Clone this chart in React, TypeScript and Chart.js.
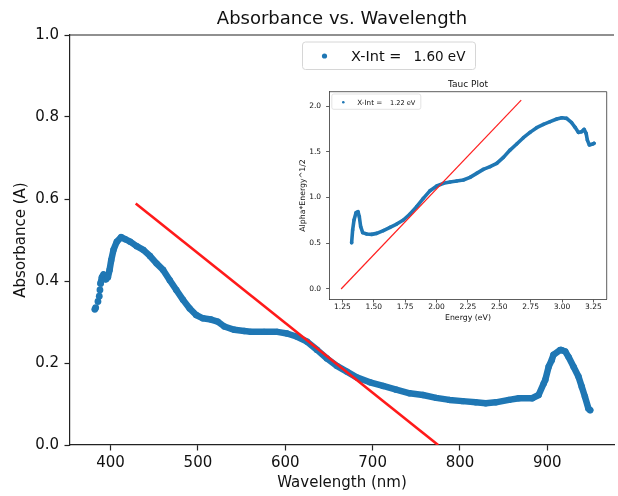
import React, { useEffect, useRef } from 'react';
import { Chart, registerables } from 'chart.js';

Chart.register(...registerables);

const FONT = "'DejaVu Sans', sans-serif";
const TEXT = '#111111';
const SPINE = '#222222';
const BLUE = '#1f77b4';

// ---- main chart data ----
const wavelengthNm = [
  382, 383, 385.6, 387.1, 387.9, 388.6, 390.1, 392, 394.7, 397, 398.9, 400.8, 403.4, 407.2,
  412.2, 416.7, 422.4, 429.9, 437.5, 445.1, 452.6, 460.2, 467.8, 475.3, 483, 490.6, 498,
  505.7, 515, 522.7, 530.3, 541.7, 553, 560.6, 575.8, 590.9, 602, 613.6, 625, 636.4, 647.7,
  659, 670.5, 681.8, 697, 712, 727, 742.4, 757.6, 772.7, 787.9, 803, 818, 829.5, 841, 856,
  867.4, 882.6, 890, 895.8, 897.7, 901.5, 905, 907, 914.8, 916, 920.5, 924.2, 930, 935.6,
  939.4, 943, 947, 949,
];
const absorbanceA = [
  0.331, 0.335, 0.35, 0.363, 0.378, 0.394, 0.409, 0.416, 0.404, 0.409, 0.427, 0.451, 0.476,
  0.496, 0.507, 0.502, 0.496, 0.485, 0.476, 0.461, 0.443, 0.427, 0.402, 0.378, 0.354, 0.333,
  0.317, 0.309, 0.306, 0.301, 0.289, 0.281, 0.278, 0.276, 0.276, 0.276, 0.272, 0.264, 0.252,
  0.232, 0.211, 0.193, 0.179, 0.165, 0.153, 0.144, 0.135, 0.126, 0.122, 0.115, 0.11, 0.107,
  0.104, 0.102, 0.104, 0.11, 0.114, 0.114, 0.122, 0.15, 0.159, 0.191, 0.207, 0.22, 0.232,
  0.232, 0.228, 0.215, 0.191, 0.167, 0.142, 0.118, 0.089, 0.085,
];
const fitWavelength = [428.8, 775];
const fitAbsorbance = [0.589, 0];
const mainXTicks = [400, 500, 600, 700, 800, 900];
const mainYTicks = [0, 0.2, 0.4, 0.6, 0.8, 1.0];
const mainXRange = [353.6, 976.3];
const mainYRange = [0, 1];
const mainTitle = 'Absorbance vs. Wavelength';
const mainXLabel = 'Wavelength (nm)';
const mainYLabel = 'Absorbance (A)';
const mainLegendLabel = 'X-Int =';
const mainLegendValue = '1.60 eV';
const sparseLeadingPoints = 5;

// ---- inset (Tauc plot) data ----
const energyEv = [
  1.324, 1.332, 1.343, 1.359, 1.375, 1.385, 1.396, 1.412, 1.444, 1.484, 1.524, 1.577, 1.63,
  1.683, 1.736, 1.789, 1.842, 1.895, 1.949, 2.002, 2.055, 2.108, 2.161, 2.214, 2.267, 2.32,
  2.373, 2.427, 2.48, 2.533, 2.586, 2.639, 2.692, 2.745, 2.798, 2.852, 2.905, 2.958, 2.998,
  3.037, 3.077, 3.104, 3.131, 3.157, 3.176, 3.192, 3.202, 3.218, 3.245, 3.255,
];
const taucValue = [
  0.506, 0.645, 0.754, 0.834, 0.845, 0.791, 0.681, 0.616, 0.601, 0.597, 0.608, 0.638, 0.674,
  0.71, 0.754, 0.82, 0.9, 0.991, 1.075, 1.126, 1.155, 1.169, 1.18, 1.191, 1.22, 1.264,
  1.308, 1.337, 1.373, 1.439, 1.519, 1.585, 1.654, 1.712, 1.763, 1.8, 1.829, 1.858, 1.872,
  1.865, 1.818, 1.767, 1.712, 1.72, 1.745, 1.701, 1.628, 1.574, 1.585, 1.592,
];
const taucFitEnergy = [1.24, 2.675];
const taucFitValue = [0, 2.065];
const taucXTicks = [1.25, 1.5, 1.75, 2.0, 2.25, 2.5, 2.75, 3.0, 3.25];
const taucYTicks = [0, 0.5, 1.0, 1.5, 2.0];
const taucXRange = [1.146, 3.356];
const taucYRange = [-0.113, 2.157];
const taucTitle = 'Tauc Plot';
const taucXLabel = 'Energy (eV)';
const taucYLabel = 'Alpha*Energy^1/2';
const taucLegendLabel = 'X-Int =';
const taucLegendValue = '1.22 eV';

function pts(xs: number[], ys: number[]) {
  return xs.map((x, i) => ({ x, y: ys[i] }));
}

function roundRect(ctx: CanvasRenderingContext2D, x: number, y: number, w: number, h: number, r: number) {
  ctx.beginPath();
  ctx.moveTo(x + r, y);
  ctx.lineTo(x + w - r, y);
  ctx.quadraticCurveTo(x + w, y, x + w, y + r);
  ctx.lineTo(x + w, y + h - r);
  ctx.quadraticCurveTo(x + w, y + h, x + w - r, y + h);
  ctx.lineTo(x + r, y + h);
  ctx.quadraticCurveTo(x, y + h, x, y + h - r);
  ctx.lineTo(x, y + r);
  ctx.quadraticCurveTo(x, y, x + r, y);
  ctx.closePath();
}

const mainDecor = {
  id: 'mainDecor',
  afterDraw(chart: any) {
    const { ctx, chartArea } = chart;
    ctx.save();
    ctx.strokeStyle = SPINE;
    ctx.lineWidth = 1.2;
    ctx.beginPath();
    ctx.moveTo(chartArea.left, chartArea.top);
    ctx.lineTo(chartArea.right, chartArea.top);
    ctx.stroke();

    ctx.fillStyle = TEXT;
    ctx.font = `18px ${FONT}`;
    ctx.textAlign = 'center';
    ctx.textBaseline = 'alphabetic';
    ctx.fillText(mainTitle, (chartArea.left + chartArea.right) / 2, 23.5);

    // legend
    roundRect(ctx, 302.5, 42, 173, 27.5, 3);
    ctx.fillStyle = 'rgba(255,255,255,0.85)';
    ctx.fill();
    ctx.strokeStyle = '#d6d6d6';
    ctx.lineWidth = 1;
    ctx.stroke();
    ctx.fillStyle = BLUE;
    ctx.beginPath();
    ctx.arc(324.5, 56, 2.6, 0, Math.PI * 2);
    ctx.fill();
    ctx.fillStyle = TEXT;
    ctx.textAlign = 'left';
    ctx.font = `14.5px ${FONT}`;
    ctx.fillText(mainLegendLabel, 351, 61);
    ctx.font = `13.5px ${FONT}`;
    ctx.fillText(mainLegendValue, 413.5, 61);
    ctx.restore();
  },
};

const insetDecor = {
  id: 'insetDecor',
  afterDraw(chart: any) {
    const { ctx, chartArea } = chart;
    ctx.save();
    ctx.strokeStyle = '#333';
    ctx.lineWidth = 0.8;
    ctx.beginPath();
    ctx.moveTo(chartArea.left, chartArea.top);
    ctx.lineTo(chartArea.right, chartArea.top);
    ctx.lineTo(chartArea.right, chartArea.bottom);
    ctx.stroke();

    ctx.fillStyle = TEXT;
    ctx.font = `9px ${FONT}`;
    ctx.textAlign = 'center';
    ctx.textBaseline = 'alphabetic';
    ctx.fillText(taucTitle, (chartArea.left + chartArea.right) / 2, 14.7);

    roundRect(ctx, chartArea.left + 2.5, chartArea.top + 2.3, 89, 15.3, 2);
    ctx.fillStyle = 'rgba(255,255,255,0.85)';
    ctx.fill();
    ctx.strokeStyle = '#dcdcdc';
    ctx.lineWidth = 0.8;
    ctx.stroke();
    ctx.fillStyle = BLUE;
    ctx.beginPath();
    ctx.arc(chartArea.left + 14, chartArea.top + 10.6, 1.3, 0, Math.PI * 2);
    ctx.fill();
    ctx.fillStyle = TEXT;
    ctx.textAlign = 'left';
    ctx.font = `7.2px ${FONT}`;
    ctx.fillText(taucLegendLabel, chartArea.left + 28, chartArea.top + 13.3);
    ctx.font = `6.6px ${FONT}`;
    ctx.fillText(taucLegendValue, chartArea.left + 60.7, chartArea.top + 13.3);
    ctx.restore();
  },
};

export default function App() {
  const mainRef = useRef<HTMLCanvasElement>(null);
  const insetRef = useRef<HTMLCanvasElement>(null);

  useEffect(() => {
    const mainChart = new Chart(mainRef.current as HTMLCanvasElement, {
      type: 'scatter',
      data: {
        datasets: [
          {
            data: pts(fitWavelength, fitAbsorbance),
            showLine: true,
            borderColor: '#ff1a1a',
            borderWidth: 2.6,
            pointRadius: 0,
            order: 0,
          },
          {
            data: pts(wavelengthNm, absorbanceA),
            showLine: true,
            borderColor: BLUE,
            borderWidth: 6.5,
            borderCapStyle: 'round',
            borderJoinStyle: 'round',
            segment: {
              borderColor: (c: any) => (c.p0DataIndex < sparseLeadingPoints ? 'rgba(0,0,0,0)' : undefined),
            },
            pointRadius: (c: any) => (c.dataIndex < sparseLeadingPoints + 1 ? 3.4 : 3.2),
            pointBackgroundColor: BLUE,
            pointBorderWidth: 0,
            order: 1,
          },
        ],
      } as any,
      options: {
        animation: false,
        responsive: false,
        events: [],
        layout: { padding: { top: 35, left: 0, right: 0, bottom: 0 } },
        plugins: { legend: { display: false }, title: { display: false }, tooltip: { enabled: false } },
        scales: {
          x: {
            type: 'linear',
            min: mainXRange[0],
            max: mainXRange[1],
            afterBuildTicks: (scale: any) => {
              scale.ticks = mainXTicks.map((v) => ({ value: v }));
            },
            afterFit: (scale: any) => {
              scale.height = 51;
            },
            ticks: { font: { family: FONT, size: 15 }, color: TEXT, padding: 3.8, maxRotation: 0, callback: (v: any) => String(v) },
            grid: { display: true, drawOnChartArea: false, drawTicks: true, tickLength: 5.5, tickColor: SPINE, tickWidth: 1.2 },
            border: { display: true, color: SPINE, width: 1.2 },
            title: { display: true, text: mainXLabel, font: { family: FONT, size: 15 }, color: TEXT, padding: { top: 0, bottom: 3.7 } },
          },
          y: {
            type: 'linear',
            min: mainYRange[0],
            max: mainYRange[1],
            afterBuildTicks: (scale: any) => {
              scale.ticks = mainYTicks.map((v) => ({ value: v }));
            },
            afterFit: (scale: any) => {
              scale.width = 70;
            },
            ticks: { font: { family: FONT, size: 15 }, color: TEXT, padding: 5.5, callback: (v: any) => Number(v).toFixed(1) },
            grid: { display: true, drawOnChartArea: false, drawTicks: true, tickLength: 5.5, tickColor: SPINE, tickWidth: 1.2 },
            border: { display: true, color: SPINE, width: 1.2 },
            title: { display: true, text: mainYLabel, font: { family: FONT, size: 15 }, color: TEXT, padding: { top: 11.7, bottom: 0 } },
          },
        },
      } as any,
      plugins: [mainDecor],
    });

    const insetChart = new Chart(insetRef.current as HTMLCanvasElement, {
      type: 'scatter',
      data: {
        datasets: [
          {
            data: pts(taucFitEnergy, taucFitValue),
            showLine: true,
            borderColor: '#ff2020',
            borderWidth: 1.2,
            pointRadius: 0,
            order: 0,
          },
          {
            data: pts(energyEv, taucValue),
            showLine: true,
            borderColor: BLUE,
            borderWidth: 3.6,
            borderCapStyle: 'round',
            borderJoinStyle: 'round',
            pointRadius: 1.8,
            pointBackgroundColor: BLUE,
            pointBorderWidth: 0,
            order: 1,
          },
        ],
      } as any,
      options: {
        animation: false,
        responsive: false,
        events: [],
        layout: { padding: { top: 19.7, left: 0, right: 8.3, bottom: 0 } },
        plugins: { legend: { display: false }, title: { display: false }, tooltip: { enabled: false } },
        scales: {
          x: {
            type: 'linear',
            min: taucXRange[0],
            max: taucXRange[1],
            afterBuildTicks: (scale: any) => {
              scale.ticks = taucXTicks.map((v) => ({ value: v }));
            },
            afterFit: (scale: any) => {
              scale.height = 30.7;
            },
            ticks: { font: { family: FONT, size: 7.5 }, color: TEXT, padding: 0.5, maxRotation: 0, callback: (v: any) => Number(v).toFixed(2) },
            grid: { display: true, drawOnChartArea: false, drawTicks: true, tickLength: 3.2, tickColor: '#333', tickWidth: 0.8 },
            border: { display: true, color: '#333', width: 0.8 },
            title: { display: true, text: taucXLabel, font: { family: FONT, size: 7.8 }, color: TEXT, padding: { top: 0, bottom: 7 } },
          },
          y: {
            type: 'linear',
            min: taucYRange[0],
            max: taucYRange[1],
            afterBuildTicks: (scale: any) => {
              scale.ticks = taucYTicks.map((v) => ({ value: v }));
            },
            afterFit: (scale: any) => {
              scale.width = 34.3;
            },
            ticks: { font: { family: FONT, size: 7.5 }, color: TEXT, padding: 5, callback: (v: any) => Number(v).toFixed(1) },
            grid: { display: true, drawOnChartArea: false, drawTicks: true, tickLength: 3.2, tickColor: '#333', tickWidth: 0.8 },
            border: { display: true, color: '#333', width: 0.8 },
            title: { display: true, text: taucYLabel, font: { family: FONT, size: 7.8 }, color: TEXT, padding: { top: 3, bottom: 0 } },
          },
        },
      } as any,
      plugins: [insetDecor],
    });

    return () => {
      mainChart.destroy();
      insetChart.destroy();
    };
  }, []);

  return (
    <div style={{ position: 'fixed', left: 0, top: 0, width: 618, height: 496, background: '#ffffff', overflow: 'hidden' }}>
      <canvas ref={mainRef} width={618} height={496} style={{ position: 'absolute', left: 0, top: 0, width: 618, height: 496 }} />
      <canvas ref={insetRef} width={320} height={258} style={{ position: 'absolute', left: 295, top: 72, width: 320, height: 258 }} />
    </div>
  );
}
